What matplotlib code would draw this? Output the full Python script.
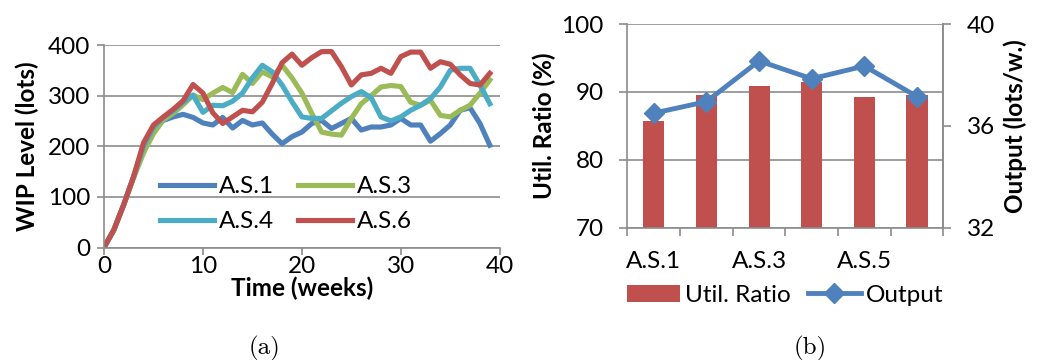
import numpy as np
import matplotlib
matplotlib.use("Agg")
import matplotlib.pyplot as plt
from matplotlib.lines import Line2D
from matplotlib.patches import Patch

plt.rcParams['font.family'] = ['Lato', 'DejaVu Sans']

# WIP level per week for each setting
weeks = list(range(40))
wip_as1 = [0, 35, 85, 140, 200, 235, 251, 258, 263, 257, 246, 242, 257, 236, 251, 242, 246, 224, 205, 219,
           228, 245, 251, 235, 245, 255, 232, 238, 238, 242, 255, 242, 242, 210, 225, 242, 271, 276, 245, 202]
wip_as3 = [0, 35, 85, 138, 187, 225, 252, 265, 282, 301, 292, 305, 316, 306, 342, 324, 347, 337, 360, 335,
           305, 265, 228, 224, 222, 255, 284, 300, 317, 320, 318, 287, 281, 291, 261, 258, 271, 281, 305, 331]
wip_as4 = [0, 35, 85, 140, 200, 237, 257, 270, 287, 301, 267, 281, 280, 289, 305, 335, 360, 347, 321, 288,
           258, 255, 255, 270, 285, 298, 308, 296, 258, 250, 258, 271, 281, 294, 317, 350, 354, 354, 321, 284]
wip_as6 = [0, 35, 85, 141, 207, 242, 258, 273, 290, 322, 305, 266, 245, 258, 271, 268, 287, 324, 365, 382,
           360, 375, 387, 387, 357, 321, 341, 344, 354, 344, 377, 386, 386, 354, 367, 362, 341, 324, 321, 344]

# utilisation and output per setting
settings = ['A.S.1', 'A.S.2', 'A.S.3', 'A.S.4', 'A.S.5', 'A.S.6']
util_ratio = [85.7, 89.5, 90.8, 91.4, 89.3, 89.5]
output = [36.5, 36.95, 38.55, 37.85, 38.35, 37.15]

BLUE = '#4F81BD'
GREEN = '#9BBB59'
CYAN = '#4BACC6'
RED = '#C0504D'
GRID = '#8C8C8C'
FS = 17.5

fig = plt.figure(figsize=(10.37, 3.6), dpi=100)

# (a) WIP level over time
ax1 = fig.add_axes([0.1003, 0.3125, 0.3816, 0.5625])
lw = 3.7
l1, = ax1.plot(weeks, wip_as1, color=BLUE, lw=lw, label='A.S.1', solid_joinstyle='round')
l3, = ax1.plot(weeks, wip_as3, color=GREEN, lw=lw, label='A.S.3', solid_joinstyle='round')
l4, = ax1.plot(weeks, wip_as4, color=CYAN, lw=lw, label='A.S.4', solid_joinstyle='round')
l6, = ax1.plot(weeks, wip_as6, color=RED, lw=lw, label='A.S.6', solid_joinstyle='round')
ax1.set_xlim(0, 40)
ax1.set_ylim(0, 400)
ax1.set_xticks([0, 10, 20, 30, 40])
ax1.set_yticks([0, 100, 200, 300, 400])
ax1.yaxis.grid(True, color=GRID, lw=1.2)
ax1.set_axisbelow(True)
for s in ['top', 'right']:
    ax1.spines[s].set_visible(False)
for s in ['left', 'bottom']:
    ax1.spines[s].set_color(GRID)
    ax1.spines[s].set_linewidth(1.2)
ax1.tick_params(axis='both', color=GRID, width=1.2, length=5, labelsize=FS)
ax1.tick_params(axis='y', pad=5)
ax1.tick_params(axis='x', pad=1)
ax1.set_xlabel('Time (weeks)', fontsize=FS, fontweight='bold', labelpad=0)
ax1.set_ylabel('WIP Level (lots)', fontsize=FS, fontweight='bold', labelpad=6)
# legend filled column by column: A.S.1 / A.S.4 left, A.S.3 / A.S.6 right
ax1.legend([l1, l4, l3, l6], ['A.S.1', 'A.S.4', 'A.S.3', 'A.S.6'],
           loc='center', bbox_to_anchor=(0.46, 0.214), ncol=2, frameon=False,
           fontsize=FS, handlelength=2.2, handletextpad=0.2, columnspacing=1.0,
           labelspacing=0.58)

# (b) utilisation bars with output line on a second axis
ax2 = fig.add_axes([0.605, 0.3675, 0.3047, 0.5658])
x = np.arange(len(settings))
ax2.bar(x, util_ratio, width=0.4, color=RED, zorder=2)
ax2.set_xlim(-0.5, len(settings) - 0.5)
ax2.set_ylim(70, 100)
ax2.set_yticks([70, 80, 90, 100])
ax2.set_xticks(np.arange(-0.5, len(settings)), minor=False)
ax2.set_xticklabels([])
ax2.set_xticks(x[::2], minor=True)
ax2.set_xticklabels(settings[::2], minor=True)
ax2.tick_params(axis='x', which='minor', length=0, labelsize=FS, pad=17)
ax2.tick_params(axis='x', which='major', color=GRID, width=1.2, length=6)
ax2.tick_params(axis='y', color=GRID, width=1.2, length=6, labelsize=FS, pad=11)
ax2.yaxis.grid(True, color=GRID, lw=1.2)
ax2.set_axisbelow(True)
ax2.spines['top'].set_visible(False)
for s in ['left', 'right', 'bottom']:
    ax2.spines[s].set_color(GRID)
    ax2.spines[s].set_linewidth(1.2)
ax2.set_ylabel('Util. Ratio (%)', fontsize=FS, fontweight='bold', labelpad=4)

ax3 = ax2.twinx()
ax3.plot(x, output, color=BLUE, lw=3.5, marker='D', markersize=10, zorder=3)
ax3.set_ylim(32, 40)
ax3.set_yticks([32, 36, 40])
ax3.tick_params(axis='y', color=GRID, width=1.2, length=6, labelsize=FS, pad=11)
for s in ['top', 'left', 'bottom']:
    ax3.spines[s].set_visible(False)
ax3.spines['right'].set_color(GRID)
ax3.spines['right'].set_linewidth(1.2)
ax3.set_ylabel('Output (lots/w.)', fontsize=FS, fontweight='bold', labelpad=6)

handles = [Patch(facecolor=RED, edgecolor='none'),
           Line2D([], [], color=BLUE, lw=3.5, marker='D', markersize=10)]
fig.legend(handles, ['Util. Ratio', 'Output'], loc='center', bbox_to_anchor=(0.757, 0.18),
           ncol=2, frameon=False, fontsize=FS, handlelength=2.2, handletextpad=0.2,
           columnspacing=0.7)

fig.text(0.2555, 0.015, '(a)', fontsize=18, family='cmr10', ha='center')
fig.text(0.781, 0.015, '(b)', fontsize=18, family='cmr10', ha='center')

fig.savefig('out.png', dpi=100)
